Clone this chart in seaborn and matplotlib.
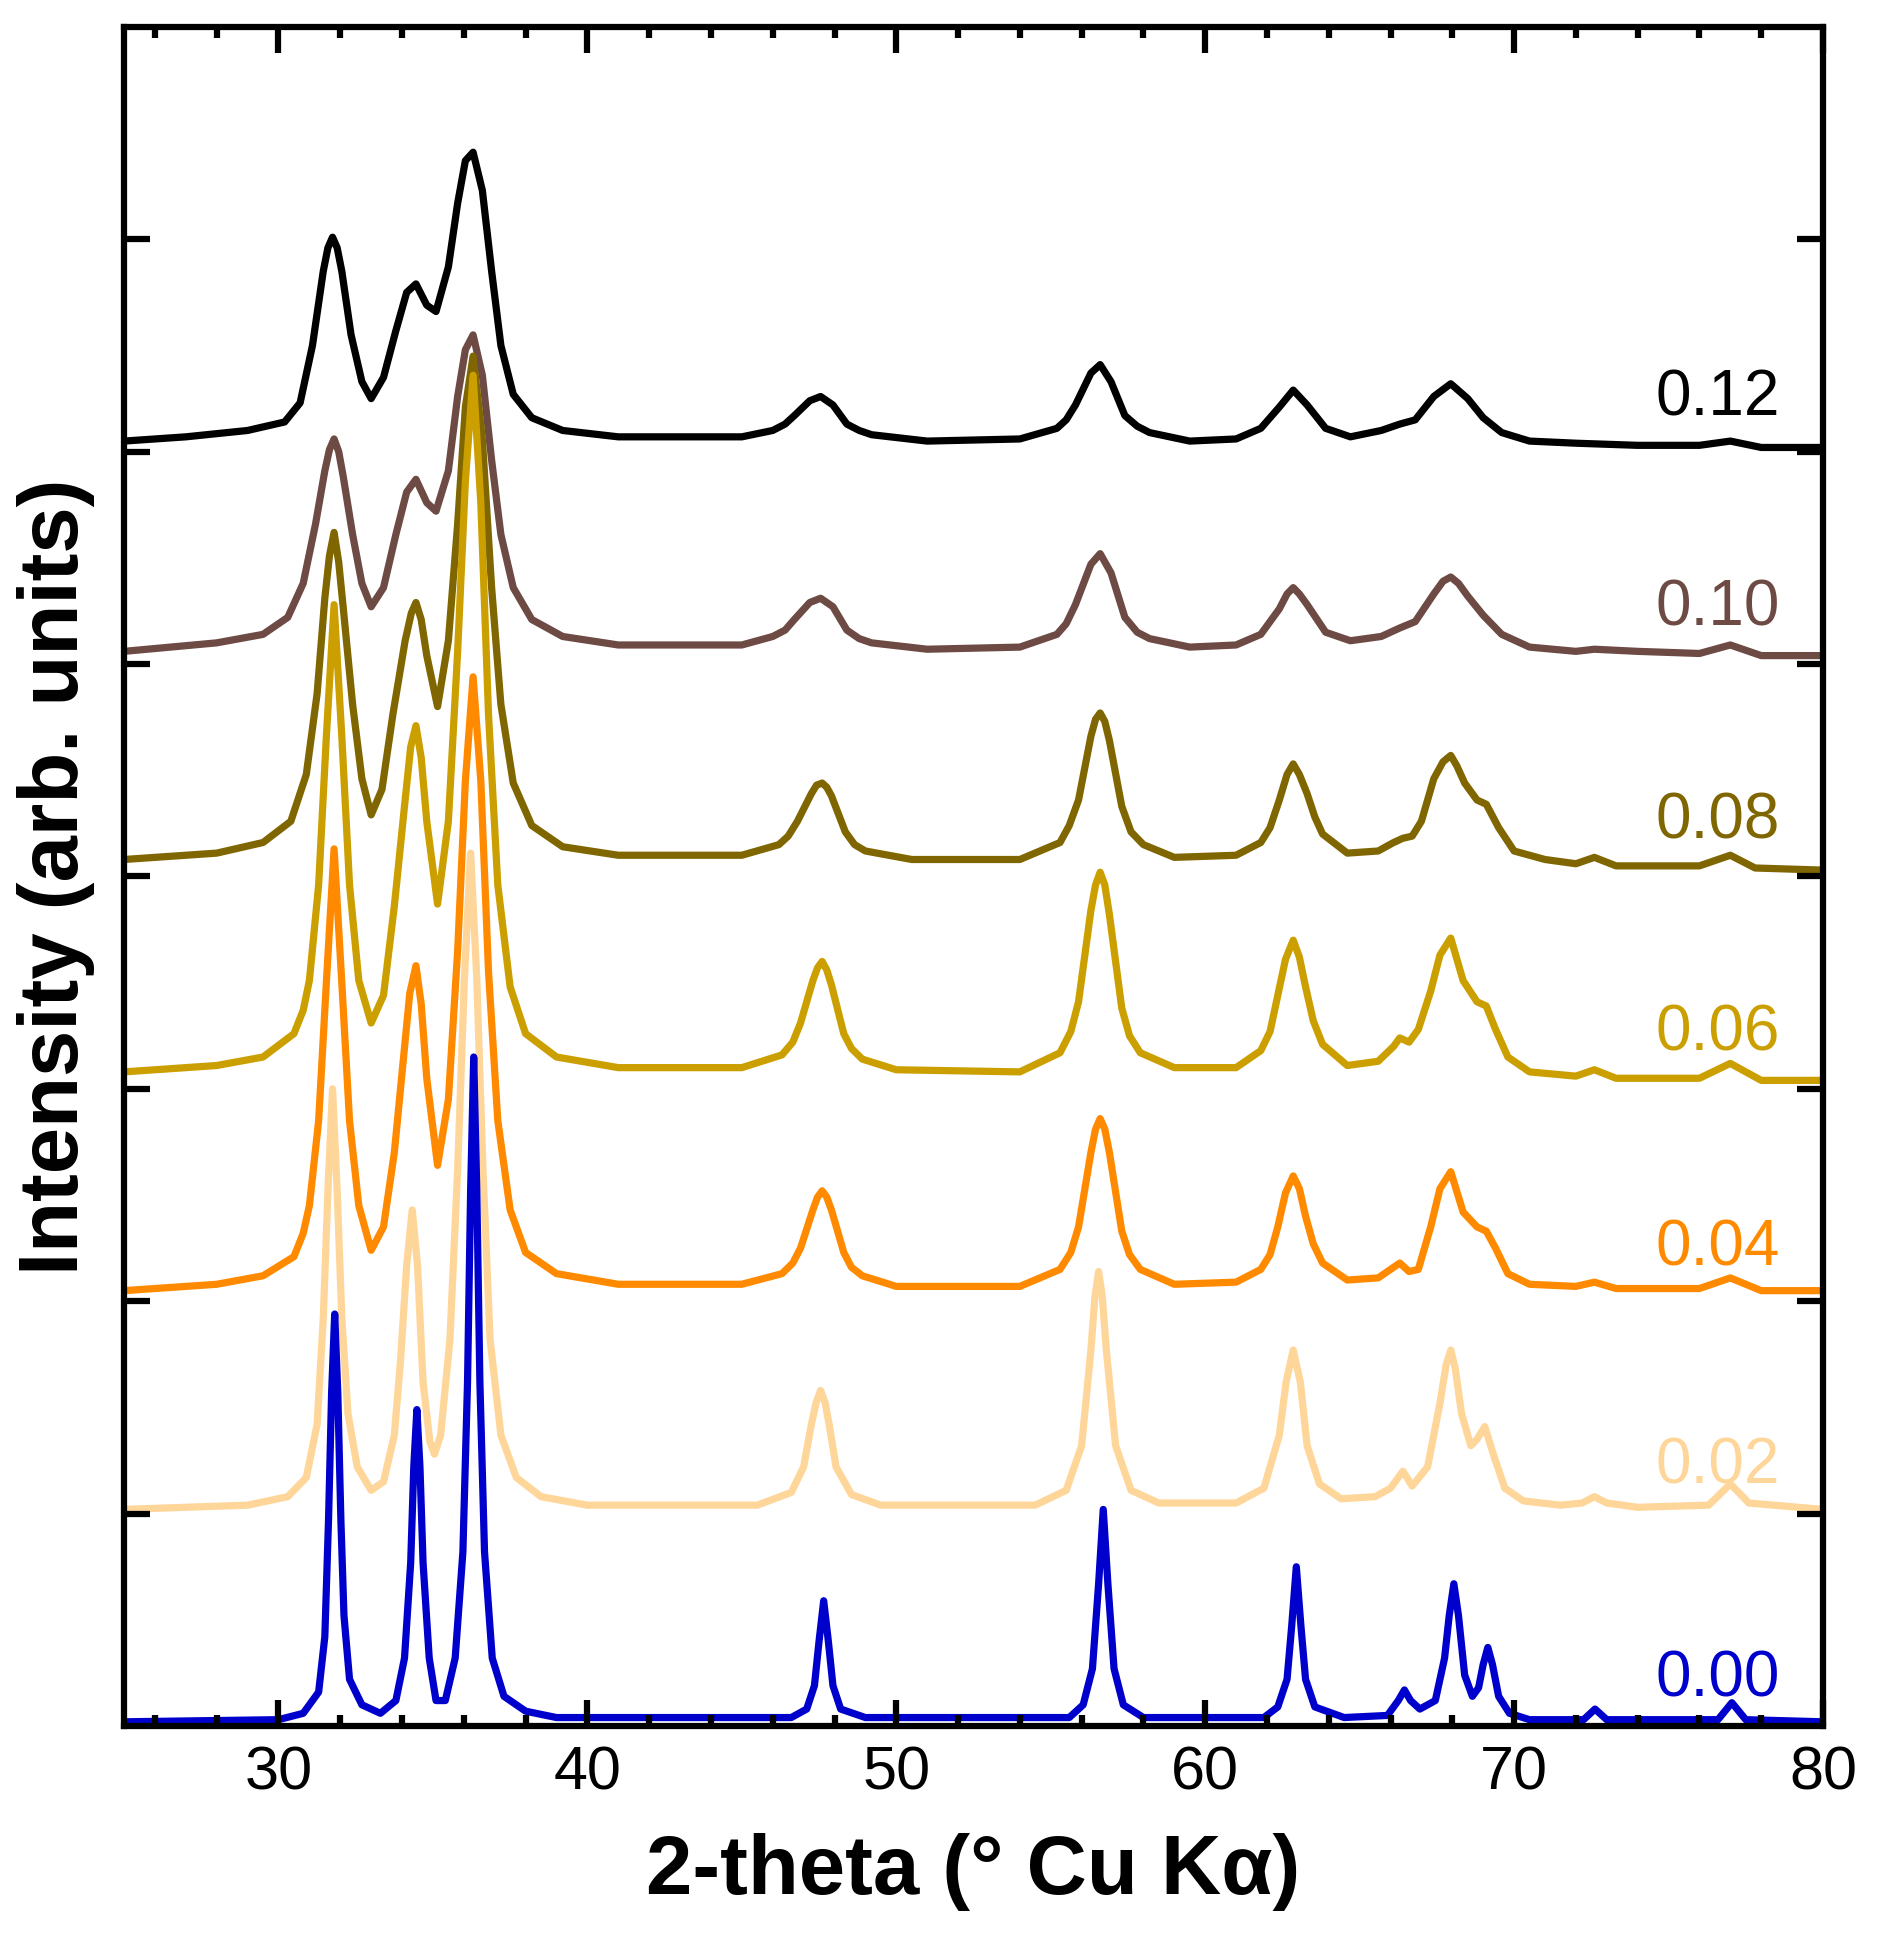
# XRD patterns of the doped series, stacked with a fixed offset
import matplotlib
matplotlib.use("Agg")
import matplotlib.pyplot as plt
from matplotlib.ticker import MultipleLocator
import seaborn as sns
import pandas as pd

levels = ["0.00", "0.02", "0.04", "0.06", "0.08", "0.10", "0.12"]
colors = ["#0000CC", "#FFD699", "#FF8A00", "#CC9F00", "#7F6600", "#6D4A43", "#000000"]
offsets = [0.02, 1.02, 2.05, 3.06, 4.06, 5.06, 6.05]

# (2-theta, intensity above own baseline)
pts_000 = [(25, 0.0), (30, 0.01), (30.8, 0.04), (31.3, 0.14), (31.5, 0.4), (31.62, 0.95),
           (31.72, 1.55), (31.82, 1.92), (31.92, 1.55), (32.02, 0.95), (32.12, 0.5), (32.3, 0.2),
           (32.7, 0.08), (33.3, 0.04), (33.8, 0.1), (34.08, 0.3), (34.28, 0.75), (34.38, 1.2),
           (34.48, 1.47), (34.58, 1.2), (34.68, 0.75), (34.88, 0.3), (35.1, 0.1), (35.4, 0.1),
           (35.72, 0.3), (35.97, 0.8), (36.12, 1.6), (36.22, 2.5), (36.32, 3.13), (36.42, 2.5),
           (36.52, 1.6), (36.67, 0.8), (36.92, 0.3), (37.3, 0.12), (38, 0.05), (39, 0.02),
           (46.6, 0.02), (47.1, 0.06), (47.35, 0.17), (47.5, 0.38), (47.65, 0.57), (47.8, 0.38),
           (47.95, 0.17), (48.2, 0.06), (49, 0.02), (55.6, 0.02), (56.05, 0.08), (56.35, 0.25),
           (56.55, 0.65), (56.7, 1.0), (56.85, 0.65), (57.05, 0.25), (57.35, 0.08), (58, 0.02),
           (61.9, 0.02), (62.35, 0.07), (62.65, 0.2), (62.8, 0.45), (62.95, 0.73), (63.1, 0.45),
           (63.25, 0.2), (63.55, 0.07), (64.5, 0.02), (65.9, 0.03), (66.25, 0.1), (66.45, 0.15),
           (66.65, 0.1), (66.95, 0.06), (67.45, 0.1), (67.75, 0.3), (67.9, 0.5), (68.05, 0.65),
           (68.2, 0.5), (68.4, 0.22), (68.65, 0.12), (68.85, 0.16), (69.0, 0.27), (69.15, 0.35),
           (69.3, 0.27), (69.5, 0.12), (69.85, 0.04), (70.5, 0.01), (72.25, 0.01), (72.62, 0.06),
           (73.0, 0.01), (76.6, 0.01), (77.05, 0.09), (77.5, 0.01), (80, 0.0)]

pts_002 = [(25, 0.0), (29, 0.02), (30.3, 0.06), (30.9, 0.15), (31.25, 0.4), (31.45, 0.9),
           (31.6, 1.5), (31.75, 1.98), (31.9, 1.5), (32.05, 0.9), (32.25, 0.45), (32.55, 0.2),
           (33.0, 0.09), (33.4, 0.13), (33.75, 0.35), (33.95, 0.7), (34.15, 1.15), (34.33, 1.41),
           (34.5, 1.15), (34.68, 0.6), (34.9, 0.32), (35.05, 0.26), (35.25, 0.35), (35.55, 0.8),
           (35.8, 1.6), (36.02, 2.5), (36.22, 3.09), (36.42, 2.5), (36.62, 1.6), (36.85, 0.8),
           (37.2, 0.35), (37.7, 0.15), (38.5, 0.06), (40, 0.02), (45.5, 0.02), (46.6, 0.08),
           (47.0, 0.2), (47.25, 0.4), (47.4, 0.5), (47.55, 0.56), (47.7, 0.5), (47.85, 0.38),
           (48.05, 0.2), (48.55, 0.07), (49.5, 0.02), (54.5, 0.02), (55.5, 0.09), (56.0, 0.3),
           (56.3, 0.75), (56.43, 1.0), (56.55, 1.12), (56.67, 1.0), (56.8, 0.75), (57.1, 0.3),
           (57.6, 0.09), (58.5, 0.03), (61, 0.03), (61.9, 0.1), (62.4, 0.35), (62.62, 0.6),
           (62.85, 0.75), (63.08, 0.6), (63.3, 0.3), (63.7, 0.12), (64.4, 0.05), (65.5, 0.06),
           (66.0, 0.1), (66.4, 0.18), (66.7, 0.11), (67.2, 0.2), (67.6, 0.5), (67.8, 0.68),
           (67.95, 0.75), (68.1, 0.66), (68.3, 0.45), (68.6, 0.3), (68.8, 0.33), (69.05, 0.39),
           (69.35, 0.25), (69.7, 0.1), (70.3, 0.04), (71.5, 0.02), (72.2, 0.03), (72.6, 0.06),
           (73.0, 0.03), (74, 0.01), (76.3, 0.02), (77.0, 0.12), (77.6, 0.03), (80, 0.0)]

pts_004 = [(25, 0.0), (28, 0.03), (29.5, 0.07), (30.5, 0.16), (30.8, 0.27), (31.0, 0.4),
           (31.3, 0.8), (31.55, 1.45), (31.8, 2.08), (32.05, 1.45), (32.3, 0.8), (32.6, 0.4),
           (33.0, 0.19), (33.4, 0.3), (33.75, 0.65), (34.05, 1.1), (34.25, 1.4), (34.45, 1.53),
           (34.62, 1.35), (34.8, 1.0), (35.15, 0.59), (35.5, 0.9), (35.8, 1.6), (36.05, 2.4),
           (36.3, 2.89), (36.55, 2.4), (36.8, 1.5), (37.1, 0.8), (37.5, 0.38), (38.0, 0.18),
           (39, 0.08), (41, 0.03), (45, 0.03), (46.3, 0.08), (46.65, 0.13), (46.9, 0.2),
           (47.3, 0.38), (47.45, 0.44), (47.6, 0.47), (47.75, 0.44), (47.9, 0.38), (48.3, 0.18),
           (48.55, 0.11), (48.9, 0.07), (50, 0.02), (54, 0.02), (55.3, 0.1), (55.65, 0.18),
           (55.9, 0.3), (56.3, 0.65), (56.45, 0.76), (56.6, 0.81), (56.75, 0.76), (56.9, 0.65),
           (57.3, 0.28), (57.55, 0.17), (57.9, 0.1), (59, 0.03), (61, 0.04), (61.8, 0.1),
           (62.1, 0.17), (62.35, 0.3), (62.6, 0.46), (62.85, 0.54), (63.05, 0.48), (63.25, 0.35),
           (63.5, 0.22), (63.8, 0.13), (64.6, 0.05), (65.6, 0.06), (66.1, 0.11), (66.3, 0.13),
           (66.6, 0.09), (66.9, 0.1), (67.3, 0.3), (67.6, 0.48), (67.95, 0.56), (68.35, 0.37),
           (68.8, 0.3), (69.1, 0.28), (69.4, 0.2), (69.8, 0.08), (70.5, 0.03), (72, 0.02),
           (72.6, 0.04), (73.3, 0.01), (76, 0.01), (77, 0.06), (78, 0.0), (80, 0.0)]

pts_006 = [(25, 0.02), (28, 0.05), (29.5, 0.09), (30.5, 0.2), (30.8, 0.31), (31.0, 0.45),
           (31.3, 0.9), (31.55, 1.6), (31.8, 2.22), (32.05, 1.6), (32.3, 0.9), (32.6, 0.45),
           (33.0, 0.25), (33.4, 0.38), (33.75, 0.8), (34.1, 1.3), (34.28, 1.55), (34.45, 1.65),
           (34.62, 1.5), (34.8, 1.2), (35.15, 0.81), (35.5, 1.2), (35.8, 2.0), (36.05, 2.8),
           (36.3, 3.3), (36.55, 2.7), (36.8, 1.7), (37.1, 0.9), (37.5, 0.42), (38.0, 0.2),
           (39, 0.09), (41, 0.04), (45, 0.04), (46.3, 0.1), (46.65, 0.16), (46.9, 0.25),
           (47.3, 0.45), (47.45, 0.51), (47.6, 0.54), (47.75, 0.5), (47.9, 0.43), (48.3, 0.2),
           (48.55, 0.13), (48.9, 0.08), (50, 0.03), (54, 0.02), (55.3, 0.11), (55.65, 0.21),
           (55.9, 0.35), (56.3, 0.78), (56.45, 0.9), (56.6, 0.96), (56.75, 0.9), (56.9, 0.76),
           (57.3, 0.32), (57.55, 0.19), (57.9, 0.11), (59, 0.04), (61, 0.04), (61.8, 0.12),
           (62.1, 0.21), (62.35, 0.38), (62.6, 0.55), (62.85, 0.64), (63.05, 0.56), (63.25, 0.42),
           (63.5, 0.26), (63.8, 0.15), (64.6, 0.05), (65.6, 0.07), (66.1, 0.14), (66.3, 0.18),
           (66.6, 0.16), (66.9, 0.22), (67.3, 0.4), (67.6, 0.57), (67.95, 0.65), (68.35, 0.45),
           (68.8, 0.35), (69.1, 0.33), (69.4, 0.22), (69.8, 0.09), (70.5, 0.02), (72, 0.0),
           (72.6, 0.03), (73.3, -0.01), (76, -0.01), (77, 0.06), (78, -0.02), (80, -0.02)]

pts_008 = [(25, 0.02), (28, 0.05), (29.5, 0.1), (30.4, 0.2), (30.9, 0.42), (31.25, 0.8),
           (31.5, 1.25), (31.65, 1.45), (31.8, 1.56), (31.95, 1.42), (32.1, 1.2), (32.4, 0.75),
           (32.7, 0.4), (33.0, 0.23), (33.35, 0.35), (33.7, 0.7), (34.1, 1.05), (34.3, 1.18),
           (34.45, 1.23), (34.62, 1.15), (34.8, 0.98), (35.15, 0.74), (35.5, 1.05), (35.8, 1.6),
           (36.05, 2.15), (36.3, 2.39), (36.6, 2.0), (36.9, 1.3), (37.2, 0.75), (37.6, 0.38),
           (38.2, 0.18), (39.2, 0.08), (41, 0.04), (45, 0.04), (46.2, 0.09), (46.5, 0.13),
           (46.8, 0.2), (47.25, 0.33), (47.42, 0.37), (47.6, 0.38), (47.75, 0.36), (47.9, 0.32),
           (48.35, 0.15), (48.65, 0.09), (49, 0.06), (50.5, 0.02), (54, 0.02), (55.3, 0.1),
           (55.6, 0.18), (55.9, 0.3), (56.3, 0.6), (56.45, 0.68), (56.6, 0.71), (56.75, 0.67),
           (56.9, 0.58), (57.3, 0.27), (57.6, 0.15), (58, 0.09), (59, 0.03), (61, 0.04),
           (61.8, 0.1), (62.1, 0.17), (62.4, 0.3), (62.65, 0.42), (62.85, 0.47), (63.05, 0.42),
           (63.3, 0.33), (63.55, 0.22), (63.8, 0.14), (64.6, 0.05), (65.6, 0.06), (66.1, 0.1),
           (66.4, 0.12), (66.7, 0.13), (67.0, 0.2), (67.4, 0.4), (67.7, 0.48), (67.95, 0.51),
           (68.15, 0.46), (68.4, 0.38), (68.8, 0.3), (69.1, 0.28), (69.5, 0.17), (70.0, 0.06),
           (71, 0.02), (72, 0.0), (72.6, 0.03), (73.3, -0.01), (76, -0.01), (77, 0.04),
           (77.8, -0.02), (80, -0.03)]

pts_010 = [(25, 0.0), (28, 0.04), (29.5, 0.08), (30.3, 0.16), (30.8, 0.32), (31.2, 0.6),
           (31.5, 0.85), (31.65, 0.95), (31.8, 1.0), (31.95, 0.94), (32.1, 0.82), (32.4, 0.55),
           (32.7, 0.32), (33.0, 0.21), (33.4, 0.3), (33.8, 0.55), (34.15, 0.75), (34.45, 0.81),
           (34.8, 0.7), (35.1, 0.66), (35.5, 0.85), (35.8, 1.2), (36.05, 1.42), (36.3, 1.49),
           (36.6, 1.3), (36.9, 0.9), (37.2, 0.55), (37.6, 0.3), (38.2, 0.15), (39.2, 0.07),
           (41, 0.03), (45, 0.03), (46.0, 0.07), (46.4, 0.1), (46.7, 0.15), (47.2, 0.23),
           (47.55, 0.25), (47.95, 0.21), (48.4, 0.1), (48.8, 0.06), (49.2, 0.04), (51, 0.01),
           (54, 0.02), (55.2, 0.08), (55.5, 0.13), (55.8, 0.22), (56.3, 0.41), (56.6, 0.46),
           (56.95, 0.37), (57.4, 0.16), (57.8, 0.09), (58.2, 0.06), (59.5, 0.02), (61, 0.03),
           (61.8, 0.08), (62.4, 0.2), (62.65, 0.27), (62.85, 0.3), (63.05, 0.27), (63.3, 0.22),
           (63.9, 0.09), (64.7, 0.05), (65.7, 0.07), (66.3, 0.11), (66.8, 0.14), (67.4, 0.27),
           (67.7, 0.33), (67.95, 0.35), (68.2, 0.32), (68.5, 0.26), (69.0, 0.17), (69.6, 0.08),
           (70.5, 0.02), (72, 0.0), (72.6, 0.01), (74, 0.0), (76, -0.01), (77, 0.03),
           (78, -0.02), (80, -0.02)]

pts_012 = [(25, 0.0), (27, 0.02), (29, 0.05), (30.2, 0.09), (30.7, 0.18), (31.1, 0.45),
           (31.45, 0.8), (31.6, 0.91), (31.75, 0.96), (31.9, 0.91), (32.05, 0.8), (32.35, 0.5),
           (32.7, 0.28), (33.0, 0.2), (33.4, 0.3), (33.8, 0.52), (34.15, 0.7), (34.45, 0.74),
           (34.8, 0.64), (35.1, 0.61), (35.5, 0.82), (35.8, 1.12), (36.05, 1.32), (36.3, 1.36),
           (36.6, 1.18), (36.9, 0.8), (37.2, 0.45), (37.6, 0.22), (38.2, 0.11), (39.2, 0.05),
           (41, 0.02), (45, 0.02), (46.0, 0.05), (46.4, 0.08), (46.7, 0.12), (47.2, 0.19),
           (47.55, 0.21), (47.95, 0.17), (48.4, 0.08), (48.8, 0.05), (49.2, 0.03), (51, 0.0),
           (54, 0.01), (55.2, 0.06), (55.5, 0.1), (55.8, 0.17), (56.3, 0.32), (56.6, 0.36),
           (56.95, 0.28), (57.4, 0.12), (57.8, 0.07), (58.2, 0.04), (59.5, 0.0), (61, 0.01),
           (61.8, 0.06), (62.4, 0.16), (62.85, 0.24), (63.3, 0.17), (63.9, 0.06), (64.7, 0.02),
           (65.7, 0.05), (66.3, 0.08), (66.8, 0.1), (67.4, 0.21), (67.95, 0.27), (68.5, 0.2),
           (69.0, 0.11), (69.6, 0.04), (70.5, 0.0), (72, -0.01), (74, -0.02), (76, -0.02),
           (77, 0.0), (78, -0.03), (80, -0.03)]

patterns = [pts_000, pts_002, pts_004, pts_006, pts_008, pts_010, pts_012]

frames = []
for lev, off, pts in zip(levels, offsets, patterns):
    d = pd.DataFrame(pts, columns=["two_theta", "counts"])
    d["intensity"] = d["counts"] + off
    d["x"] = lev
    frames.append(d)

sns.set_theme(style="ticks")
plt.rcParams["font.family"] = ["Liberation Sans", "DejaVu Sans"]

fig = plt.figure(figsize=(18.85, 19.51), dpi=100)
ax = fig.add_axes([0.0658, 0.1153, 0.9013, 0.8709])

# higher doping drawn first, so the lower ones sit on top
for i in reversed(range(len(levels))):
    sns.lineplot(data=frames[i], x="two_theta", y="intensity", color=colors[i],
                 lw=5.2, estimator=None, sort=False, legend=False, ax=ax, zorder=2.0 - 0.1 * i)
    ax.text(78.6, offsets[i] + 0.2, levels[i], color=colors[i], ha="right",
            va="center", fontsize=46)

ax.set_xlim(25, 80)
ax.set_ylim(0, 8)
ax.set_xticks(range(30, 81, 10))
ax.xaxis.set_minor_locator(MultipleLocator(2))
ax.set_yticks(range(1, 8))
ax.set_yticklabels([])
ax.set_axisbelow(False)
ax.tick_params(which="both", direction="in", top=True, right=True, width=4.5,
               labelsize=44, pad=14, color="black", labelcolor="black")
ax.tick_params(which="major", length=19)
ax.tick_params(which="minor", length=8)
for sp in ax.spines.values():
    sp.set_linewidth(4.5)
    sp.set_color("black")
    sp.set_zorder(3)

ax.set_xlabel("2-theta (° Cu Kα)", fontsize=60, fontweight="bold", color="black")
ax.set_ylabel("Intensity (arb. units)", fontsize=60, fontweight="bold", color="black")
ax.xaxis.set_label_coords(0.5, -0.063)
ax.yaxis.set_label_coords(-0.017, 0.5)

fig.savefig("out.png", dpi=100)
